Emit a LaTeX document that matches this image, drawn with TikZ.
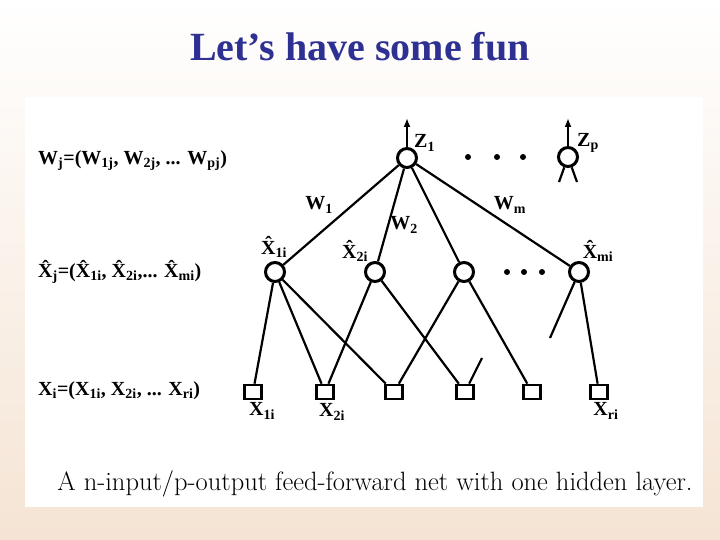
\documentclass[tikz,border=0pt]{standalone}
\usepackage{fontspec}
\newfontfamily\timesfont{Liberation Serif}
\usetikzlibrary{arrows.meta,positioning}
\definecolor{titleblue}{RGB}{46,49,146}
\definecolor{bgpeach}{RGB}{245,228,212}

\tikzset{
  unit/.style={draw, circle, line width=3pt, minimum size=19pt, inner sep=0pt},
  inbox/.style={draw, rectangle, line width=2.6pt, minimum width=17pt, minimum height=14pt, inner sep=0pt},
  link/.style={line width=2.2pt},
  lbl/.style={font=\timesfont\bfseries\fontsize{20}{22}\selectfont, inner sep=0pt},
  side/.style={lbl, anchor=west},
  dot/.style={circle, fill, inner sep=0pt, minimum size=6pt},
}

\begin{document}
\begin{tikzpicture}[x=1pt,y=1pt]
    % Background and panel
    \shade[top color=white, bottom color=bgpeach] (0,0) rectangle (720,540);
    \useasboundingbox (0,0) rectangle (720,540);
    \fill[white] (25,33) rectangle (703,443);

    % Title
    \node[font=\timesfont\bfseries\fontsize{40}{46}\selectfont, text=titleblue] (title) at (360,493) {Let’s have some fun};

    % Output layer
    \node[unit] (z1) at (407,382) {};
    \node[unit] (zp) at (568,383) {};
    \coordinate (z1out) at (407,422);
    \coordinate (zpout) at (568,422);
    \coordinate (zpl) at (559,358);
    \coordinate (zpr) at (577,358);
    \foreach \x [count=\i] in {468,497,523} \node[dot] (odot\i) at (\x,383) {};

    % Hidden layer
    \node[unit] (h1) at (275,268) {};
    \node[unit] (h2) at (375,268) {};
    \node[unit] (h3) at (464,268) {};
    \node[unit] (hm) at (579,268) {};
    \foreach \x [count=\i] in {507,524,542} \node[dot] (hdot\i) at (\x,268) {};

    % Input layer
    \foreach \x [count=\i] in {253,325,394,465,532,599} \node[inbox] (in\i) at (\x,148) {};
    \coordinate (hmstub) at (550,202);
    \coordinate (in4stub) at (482,182);

    % Connectors
    \draw[link, line width=2.4pt, -{Latex[length=9pt,width=7pt]}] (z1) -- (z1out);
    \draw[link, line width=2.4pt, -{Latex[length=9pt,width=7pt]}] (zp) -- (zpout);
    \draw[link] (zp) -- (zpl);
    \draw[link] (zp) -- (zpr);
    \foreach \h in {h1,h2,h3,hm} \draw[link] (z1) -- (\h);
    \draw[link] (h1) -- (in1);
    \draw[link] (h1) -- (in2);
    \draw[link] (h1) -- (in3);
    \draw[link] (h2) -- (in2);
    \draw[link] (h2) -- (in4);
    \draw[link] (h3) -- (in3);
    \draw[link] (h3) -- (in5);
    \draw[link] (hm) -- (hmstub);
    \draw[link] (hm) -- (in6);
    \draw[link] (in4) -- (in4stub);

    % Labels
    \node[lbl, anchor=west] (lz1) at (414,397) {Z\textsubscript{1}};
    \node[lbl, anchor=west] (lzp) at (577,397) {Z\textsubscript{p}};
    \node[lbl] (lw1) at (319,335) {W\textsubscript{1}};
    \node[lbl] (lw2) at (404,315) {W\textsubscript{2}};
    \node[lbl] (lwm) at (510,335) {W\textsubscript{m}};
    \node[lbl] (lh1) at (274,293) {\^X\textsubscript{1i}};
    \node[lbl] (lh2) at (355,289) {\^X\textsubscript{2i}};
    \node[lbl] (lhm) at (598,289) {\^X\textsubscript{mi}};
    \node[lbl] (lin1) at (262,129) {X\textsubscript{1i}};
    \node[lbl] (lin2) at (332,128) {X\textsubscript{2i}};
    \node[lbl] (lin6) at (606,129) {X\textsubscript{ri}};

    % Vectors at the left
    \node[side] (wvec) at (38,379) {W\textsubscript{j}=(W\textsubscript{1j}, W\textsubscript{2j}, ... W\textsubscript{pj})};
    \node[side] (hvec) at (38,268) {\^X\textsubscript{j}=(\^X\textsubscript{1i}, \^X\textsubscript{2i},... \^X\textsubscript{mi})};
    \node[side] (xvec) at (38,149) {X\textsubscript{i}=(X\textsubscript{1i}, X\textsubscript{2i}, ... X\textsubscript{ri})};

    % Caption
    \node[font=\fontsize{26.5}{30}\selectfont] (caption) at (375,56) {A n-input/p-output feed-forward net with one hidden layer.};
\end{tikzpicture}
\end{document}
